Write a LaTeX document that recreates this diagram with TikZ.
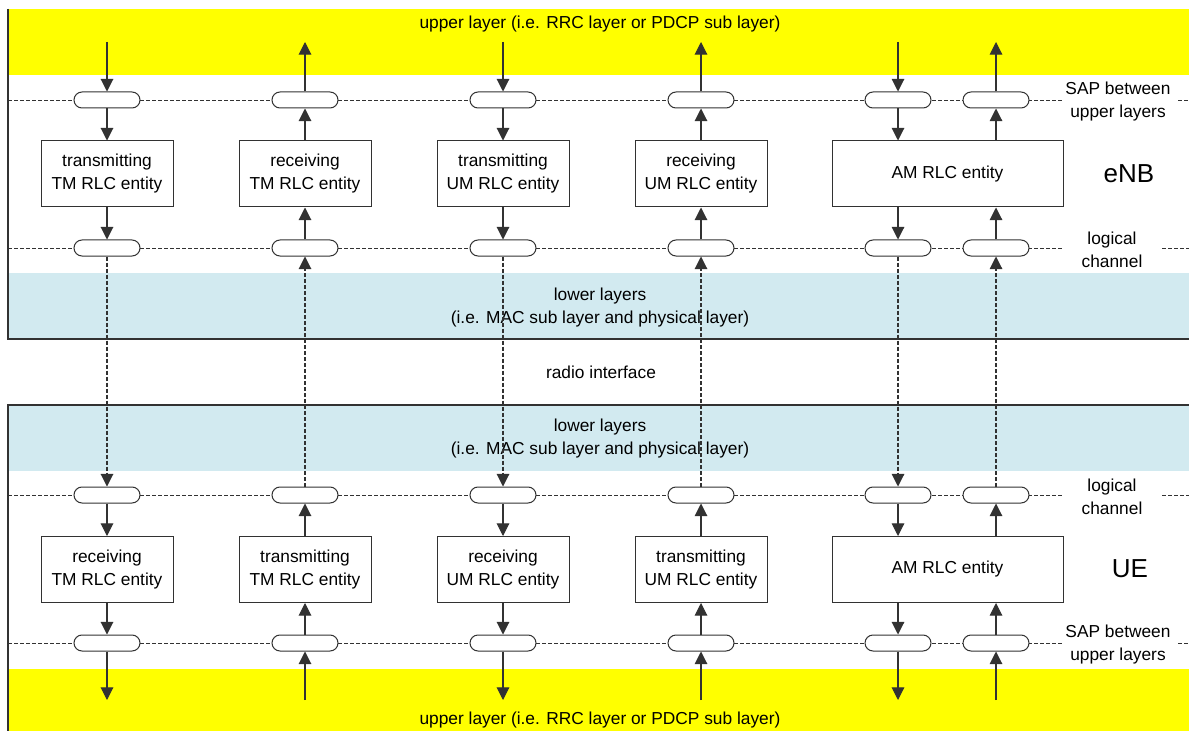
\documentclass[tikz,border=0pt]{standalone}
\usepackage{fontspec}
\setmainfont{Liberation Sans}
\usetikzlibrary{arrows.meta}
\definecolor{ylw}{RGB}{255,255,0}
\definecolor{lblue}{RGB}{210,234,240}
\definecolor{lin}{RGB}{50,50,50}
\begin{document}
\begin{tikzpicture}[x=0.75pt,y=-0.75pt,
  txt/.style={font=\fontsize{13}{17.25}\selectfont, align=center, inner sep=0pt},
  entity/.style={draw=lin, line width=0.75pt, fill=white, minimum height=49.5pt, inner sep=0pt, align=center, font=\fontsize{13}{17.25}\selectfont},
  sap/.style={draw=lin, line width=0.75pt, fill=white, rounded corners=6pt, minimum width=49.5pt, minimum height=12pt, inner sep=0pt},
  dline/.style={draw=lin, line width=0.6pt, dash pattern=on 3pt off 1.5pt},
  arr/.style={draw=lin, line width=0.8pt, -{Triangle[length=9.5pt,width=9.5pt]}},
  darr/.style={arr, dash pattern=on 3pt off 1.5pt},
  sep/.style={draw=lin, line width=1pt}]
\useasboundingbox (0,0) rectangle (1189,731);
\fill[white] (0,0) rectangle (1189,731);
% bands
\fill[ylw] (8,9) rectangle (1189,75);
\fill[ylw] (8,669) rectangle (1189,731);
\fill[lblue] (8,273) rectangle (1189,339);
\fill[lblue] (8,405) rectangle (1189,471);
\draw[sep] (8,9) -- (8,339) -- (1189,339);
\draw[sep] (1189,405) -- (8,405) -- (8,731);
% band texts
\node[txt] (ut) at (600,24.5) {upper layer (i.e. RRC layer or PDCP sub layer)};
\node[txt] (ub) at (600,720) {upper layer (i.e. RRC layer or PDCP sub layer)};
\node[txt] (lt) at (600,307.5) {lower layers\\(i.e. MAC sub layer and physical layer)};
\node[txt] (lb) at (600,438.5) {lower layers\\(i.e. MAC sub layer and physical layer)};
\node[txt] (ri) at (601,372) {radio interface};
% dashed layer lines
\draw[dline] (8,100) -- (1063,100) (1178,100) -- (1189,100);
\draw[dline] (8,248) -- (1063,248) (1162,248) -- (1189,248);
\draw[dline] (8,495) -- (1063,495) (1162,495) -- (1189,495);
\draw[dline] (8,643) -- (1063,643) (1178,643) -- (1189,643);
% right labels
\node[txt] (sapt) at (1118,101.5) {SAP between\\upper layers};
\node[txt] (lct) at (1112,250) {logical\\channel};
\node[txt] (lcb) at (1112,497) {logical\\channel};
\node[txt] (sapb) at (1118,644.5) {SAP between\\upper layers};
\node[inner sep=0pt, font=\fontsize{19.5}{23}\selectfont] (enb) at (1129,174) {eNB};
\node[inner sep=0pt, font=\fontsize{19.5}{23}\selectfont] (ue) at (1130,569) {UE};
% SAP ovals
\foreach \i/\x in {1/107,2/305,3/503,4/701,5/898,6/996}{
  \node[sap] (s\i) at (\x,100) {};
  \node[sap] (l\i) at (\x,248) {};
  \node[sap] (L\i) at (\x,495) {};
  \node[sap] (S\i) at (\x,643) {};
  \coordinate (yt\i) at (\x,42);
  \coordinate (yb\i) at (\x,700);
}
% entities eNB
\node[entity, minimum width=99pt] (e1) at (107,174) {transmitting\\TM RLC entity};
\node[entity, minimum width=99pt] (e2) at (305,174) {receiving\\TM RLC entity};
\node[entity, minimum width=99pt] (e3) at (503,174) {transmitting\\UM RLC entity};
\node[entity, minimum width=99pt] (e4) at (701,174) {receiving\\UM RLC entity};
\node[entity, minimum width=173.25pt] (e5) at (947.5,174) {AM RLC entity};
% entities UE
\node[entity, minimum width=99pt] (u1) at (107,569.5) {receiving\\TM RLC entity};
\node[entity, minimum width=99pt] (u2) at (305,569.5) {transmitting\\TM RLC entity};
\node[entity, minimum width=99pt] (u3) at (503,569.5) {receiving\\UM RLC entity};
\node[entity, minimum width=99pt] (u4) at (701,569.5) {transmitting\\UM RLC entity};
\node[entity, minimum width=173.25pt] (u5) at (947.5,569.5) {AM RLC entity};
% downward columns
\foreach \i/\e in {1/1,3/3}{
  \draw[arr] (yt\i) -- (s\i.north);
  \draw[arr] (s\i.south) -- (e\e.north);
  \draw[arr] (e\e.south) -- (l\i.north);
  \draw[darr] (l\i.south) -- (L\i.north);
  \draw[arr] (L\i.south) -- (u\e.north);
  \draw[arr] (u\e.south) -- (S\i.north);
  \draw[arr] (S\i.south) -- (yb\i);
}
\foreach \i/\e in {2/2,4/4}{
  \draw[arr] (s\i.north) -- (yt\i);
  \draw[arr] (e\e.north) -- (s\i.south);
  \draw[arr] (l\i.north) -- (e\e.south);
  \draw[darr] (L\i.north) -- (l\i.south);
  \draw[arr] (u\e.north) -- (L\i.south);
  \draw[arr] (S\i.north) -- (u\e.south);
  \draw[arr] (yb\i) -- (S\i.south);
}
% AM down column
\draw[arr] (yt5) -- (s5.north);
\draw[arr] (s5.south) -- (s5.south |- e5.north);
\draw[arr] (l5.north |- e5.south) -- (l5.north);
\draw[darr] (l5.south) -- (L5.north);
\draw[arr] (L5.south) -- (L5.south |- u5.north);
\draw[arr] (S5.north |- u5.south) -- (S5.north);
\draw[arr] (S5.south) -- (yb5);
% AM up column
\draw[arr] (s6.north) -- (yt6);
\draw[arr] (s6.south |- e5.north) -- (s6.south);
\draw[arr] (l6.north) -- (l6.north |- e5.south);
\draw[darr] (L6.north) -- (l6.south);
\draw[arr] (L6.south |- u5.north) -- (L6.south);
\draw[arr] (S6.north) -- (S6.north |- u5.south);
\draw[arr] (yb6) -- (S6.south);
\end{tikzpicture}
\end{document}
